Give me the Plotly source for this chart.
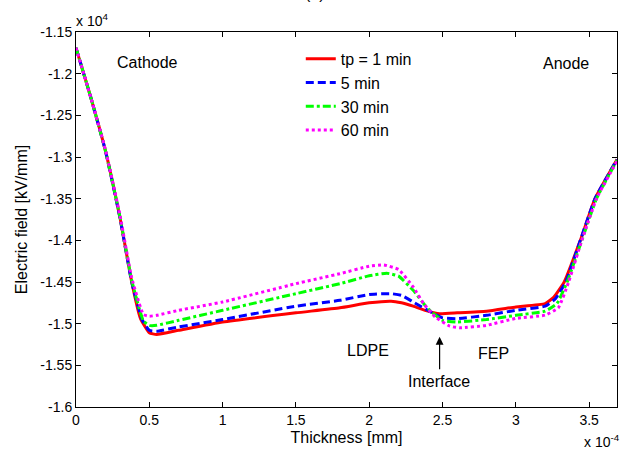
import plotly.graph_objects as go

# Thickness (x 1e-4 mm) and electric field (x 1e4 kV/mm)
x_red = [0, 0.1, 0.2, 0.3, 0.38, 0.44, 0.5, 0.55, 0.7, 1.0, 1.5, 1.8, 2.0, 2.15, 2.22, 2.3, 2.4, 2.48, 2.6, 2.8, 3.0, 3.2, 3.26, 3.33, 3.44, 3.54, 3.69]
y_red = [-1.169, -1.228, -1.292, -1.373, -1.45, -1.494, -1.511, -1.513, -1.508, -1.498, -1.487, -1.481, -1.475, -1.473, -1.475, -1.479, -1.485, -1.488, -1.487, -1.485, -1.480, -1.476, -1.468, -1.45, -1.40, -1.35, -1.303]

x_blue = [0, 0.1, 0.2, 0.3, 0.38, 0.45, 0.5, 0.55, 0.7, 1.0, 1.5, 1.8, 2.0, 2.15, 2.22, 2.3, 2.42, 2.5, 2.6, 2.8, 3.0, 3.2, 3.27, 3.34, 3.44, 3.54, 3.69]
y_blue = [-1.169, -1.228, -1.292, -1.373, -1.45, -1.495, -1.508, -1.509, -1.504, -1.495, -1.479, -1.472, -1.465, -1.464, -1.466, -1.474, -1.486, -1.493, -1.494, -1.490, -1.484, -1.479, -1.470, -1.45, -1.40, -1.35, -1.303]

x_green = [0, 0.1, 0.2, 0.3, 0.38, 0.46, 0.5, 0.55, 0.7, 1.0, 1.5, 1.8, 2.0, 2.12, 2.2, 2.3, 2.4, 2.5, 2.6, 2.8, 3.0, 3.2, 3.28, 3.35, 3.45, 3.55, 3.69]
y_green = [-1.169, -1.228, -1.292, -1.372, -1.448, -1.497, -1.502, -1.502, -1.496, -1.484, -1.464, -1.452, -1.4425, -1.4395, -1.443, -1.460, -1.482, -1.496, -1.498, -1.495, -1.490, -1.485, -1.476, -1.45, -1.40, -1.35, -1.304]

x_magenta = [0, 0.1, 0.2, 0.3, 0.38, 0.46, 0.5, 0.55, 0.7, 1.0, 1.5, 1.8, 2.0, 2.1, 2.2, 2.3, 2.37, 2.45, 2.55, 2.62, 2.8, 3.0, 3.2, 3.29, 3.36, 3.45, 3.55, 3.69]
y_magenta = [-1.169, -1.228, -1.291, -1.370, -1.445, -1.489, -1.491, -1.490, -1.484, -1.474, -1.452, -1.440, -1.431, -1.4295, -1.435, -1.456, -1.4757, -1.492, -1.503, -1.505, -1.502, -1.4937, -1.4897, -1.481, -1.45, -1.40, -1.35, -1.305]

series_names = ["tp = 1 min", "5 min", "30 min", "60 min"]

x_tickvals = [0, 0.5, 1, 1.5, 2, 2.5, 3, 3.5]
x_ticktext = ["0", "0.5", "1", "1.5", "2", "2.5", "3", "3.5"]
y_tickvals = [-1.6, -1.55, -1.5, -1.45, -1.4, -1.35, -1.3, -1.25, -1.2, -1.15]
y_ticktext = ["-1.6", "-1.55", "-1.5", "-1.45", "-1.4", "-1.35", "-1.3", "-1.25", "-1.2", "-1.15"]

FONT = "Liberation Sans, Arial, sans-serif"

fig = go.Figure()
styles = [
    ("#ff0000", "solid", x_red, y_red),
    ("#0000ff", "8px,4px", x_blue, y_blue),
    ("#00ff00", "8px,3px,3px,3px", x_green, y_green),
    ("#ff00ff", "3px,3px", x_magenta, y_magenta),
]
for name, (col, dash, xs, ys) in zip(series_names, styles):
    fig.add_trace(go.Scatter(x=xs, y=ys, mode="lines", name=name,
                             line=dict(color=col, width=3, dash=dash, shape="spline", smoothing=0.4)))

axis_common = dict(showline=True, linecolor="black", linewidth=1, mirror="ticks",
                   ticks="inside", ticklen=5, tickcolor="black", showgrid=False, zeroline=False,
                   automargin=False,
                   tickfont=dict(family=FONT, size=14, color="black"))

fig.update_layout(
    width=624, height=453,
    margin=dict(l=76, r=7, t=32, b=46),
    paper_bgcolor="white", plot_bgcolor="white",
    font=dict(family=FONT, color="black"),
    xaxis=dict(range=[0, 3.69], tickvals=x_tickvals, ticktext=x_ticktext,
               title=dict(text="Thickness [mm]", font=dict(family=FONT, size=16), standoff=5),
               **axis_common),
    yaxis=dict(range=[-1.6, -1.15], tickvals=y_tickvals, ticktext=y_ticktext,
               title=dict(text="Electric field [kV/mm]", font=dict(family=FONT, size=16), standoff=8),
               **axis_common),
    legend=dict(x=0.4155, y=0.974, xanchor="left", yanchor="top", bgcolor="rgba(0,0,0,0)",
                font=dict(family=FONT, size=16, color="black"), borderwidth=0, tracegroupgap=0),
    showlegend=True,
)

ann_font = dict(family=FONT, size=16, color="black")
fig.add_annotation(x=0.49, y=-1.1868, text="Cathode", showarrow=False, font=ann_font)
fig.add_annotation(x=3.34, y=-1.1876, text="Anode", showarrow=False, font=ann_font)
fig.add_annotation(x=1.99, y=-1.5326, text="LDPE", showarrow=False, font=ann_font)
fig.add_annotation(x=2.85, y=-1.5357, text="FEP", showarrow=False, font=ann_font)
fig.add_annotation(x=2.478, y=-1.5698, text="Interface", showarrow=False, font=ann_font)
fig.add_annotation(x=2.48, y=-1.5158, ax=2.48, ay=-1.5565, axref="x", ayref="y",
                   text="", showarrow=True, arrowhead=2, arrowsize=1.3, arrowwidth=1.2, arrowcolor="black")
# exponent labels
fig.add_annotation(xref="paper", yref="paper", x=0.0, y=1.0, xanchor="left", yanchor="bottom",
                   yshift=1, xshift=-2, text="x 10<sup>4</sup>", showarrow=False, font=dict(family=FONT, size=14))
fig.add_annotation(xref="paper", yref="paper", x=1.0, y=0.0, xanchor="right", yanchor="top",
                   yshift=-23, xshift=5, text="x 10<sup>-4</sup>", showarrow=False, font=dict(family=FONT, size=14))
# partially visible panel title
fig.add_annotation(xref="paper", yref="paper", x=(315 - 76) / 541, y=1.0, yanchor="bottom",
                   yshift=28, text="(a)", showarrow=False, font=dict(family=FONT, size=16))

fig.write_html("out.html", config={"displayModeBar": False},
               post_script="document.body.style.margin='0';")
